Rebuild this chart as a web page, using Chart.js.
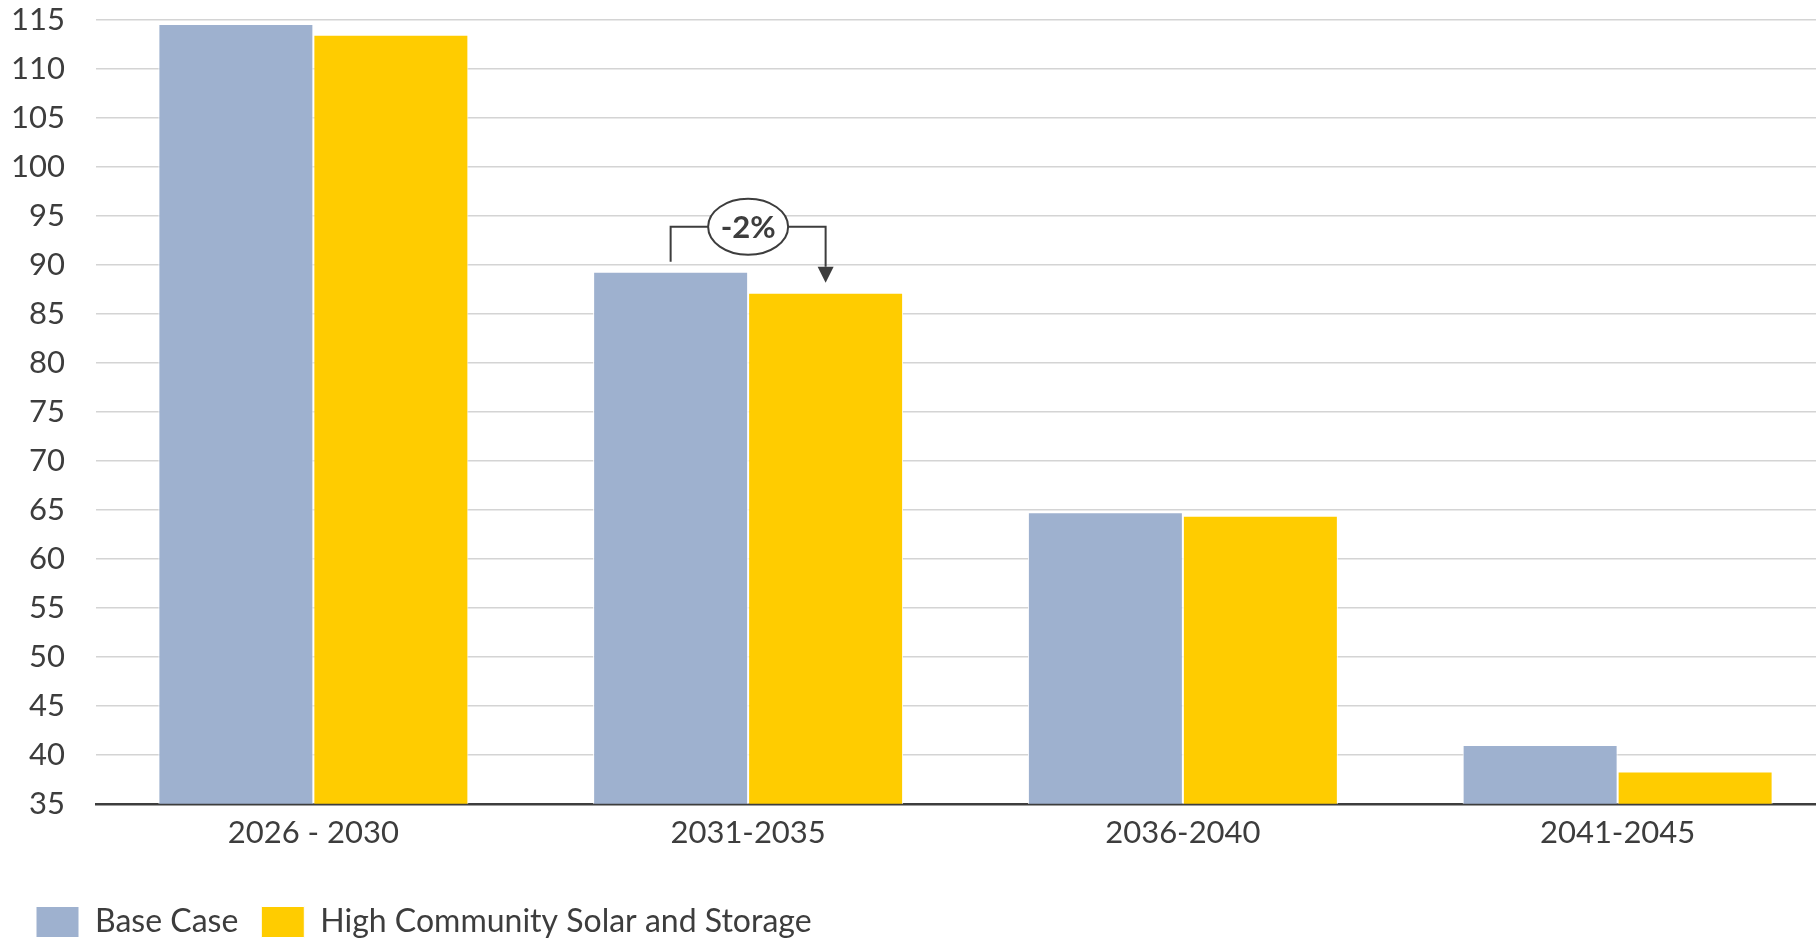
<!DOCTYPE html>
<html>
<head>
<meta charset="utf-8">
<script src="https://cdn.jsdelivr.net/npm/chart.js@4.4.1/dist/chart.umd.min.js"></script>
<style>
  html, body { margin: 0; padding: 0; background: #fff; overflow: hidden; }
  #wrap { width: 1840px; height: 939px; position: relative; }
</style>
</head>
<body>
<div id="wrap"><canvas id="chart"></canvas></div>
<script>
// Data
const periods = ['2026 - 2030', '2031-2035', '2036-2040', '2041-2045'];
const baseCase = [114.6, 89.3, 64.75, 41.0];
const highSolar = [113.5, 87.15, 64.4, 38.3];
const seriesNames = ['Base Case', 'High Community Solar and Storage'];
const yMin = 35, yMax = 115, yStep = 5;
const calloutIndex = 1; // period with the % change bracket

const textColor = '#3d3d3d';
Chart.defaults.font.family = "Lato, 'Open Sans', sans-serif";
Chart.defaults.color = textColor;

// Bracket + ellipse label between the two bars of one period
const bracketPlugin = {
    id: 'bracket',
    afterDatasetsDraw(chart) {
        const b = chart.getDatasetMeta(0).data[calloutIndex];
        const h = chart.getDatasetMeta(1).data[calloutIndex];
        const ctx = chart.ctx;
        const lineY = b.y - 45;
        const midX = (b.x + h.x) / 2;
        const rx = 40, ry = 28;
        const pct = Math.round((highSolar[calloutIndex] - baseCase[calloutIndex]) / baseCase[calloutIndex] * 100);

        ctx.save();
        ctx.strokeStyle = textColor;
        ctx.fillStyle = textColor;
        ctx.lineWidth = 2;
        ctx.beginPath();
        ctx.moveTo(b.x, b.y - 10);
        ctx.lineTo(b.x, lineY);
        ctx.lineTo(midX - rx, lineY);
        ctx.moveTo(midX + rx, lineY);
        ctx.lineTo(h.x, lineY);
        ctx.lineTo(h.x, h.y - 26);
        ctx.stroke();

        // arrow head
        ctx.beginPath();
        ctx.moveTo(h.x - 8, h.y - 26);
        ctx.lineTo(h.x + 8, h.y - 26);
        ctx.lineTo(h.x, h.y - 10);
        ctx.closePath();
        ctx.fill();

        // ellipse
        ctx.beginPath();
        ctx.ellipse(midX, lineY, rx, ry, 0, 0, Math.PI * 2);
        ctx.fillStyle = '#fff';
        ctx.fill();
        ctx.stroke();

        ctx.fillStyle = textColor;
        ctx.font = "bold 31px Lato, sans-serif";
        ctx.textAlign = 'center';
        ctx.textBaseline = 'middle';
        ctx.fillText(pct + '%', midX, lineY + 1);
        ctx.restore();
    }
};

new Chart(document.getElementById('chart'), {
    type: 'bar',
    data: {
        labels: periods,
        datasets: [
            {
                label: seriesNames[0],
                data: baseCase,
                backgroundColor: '#9EB1CF',
                borderColor: '#ffffff',
                borderWidth: 1,
                borderSkipped: 'start'
            },
            {
                label: seriesNames[1],
                data: highSolar,
                backgroundColor: '#FFCC00',
                borderColor: '#ffffff',
                borderWidth: 1,
                borderSkipped: 'start'
            }
        ]
    },
    options: {
        responsive: true,
        maintainAspectRatio: false,
        animation: false,
        categoryPercentage: 0.713,
        barPercentage: 1.0,
        layout: { padding: { left: 13, right: 5, top: 0, bottom: -9 } },
        scales: {
            x: {
                grid: { display: false },
                border: { display: true, color: textColor, width: 2.5 },
                ticks: { font: { size: 31 }, color: textColor, padding: 3 },
                afterFit(scale) { scale.height += 28; }
            },
            y: {
                min: yMin,
                max: yMax,
                ticks: { stepSize: yStep, font: { size: 31 }, color: textColor, padding: 31 },
                grid: { color: '#d4d4d4', lineWidth: 1.5, drawTicks: false },
                border: { display: false },
                afterFit(scale) {
                    scale.width = 83;
                    scale.paddingTop = 20;
                    scale.paddingBottom = 0;
                }
            }
        },
        plugins: {
            legend: {
                position: 'bottom',
                align: 'start',
                labels: {
                    boxWidth: 43,
                    boxHeight: 31,
                    padding: 23,
                    font: { size: 32 },
                    color: textColor
                }
            },
            tooltip: { enabled: false }
        }
    },
    plugins: [bracketPlugin]
});
</script>
</body>
</html>
